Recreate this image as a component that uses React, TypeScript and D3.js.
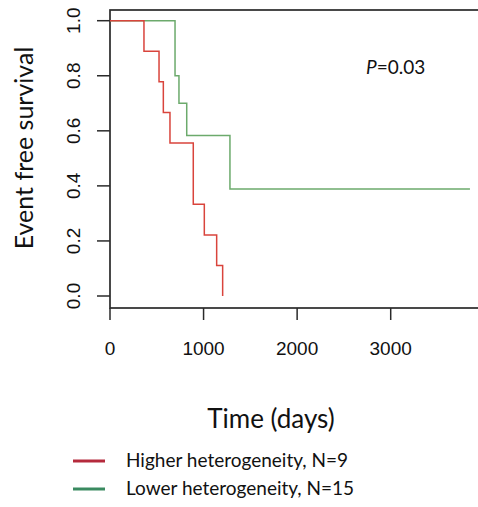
import React from "react";
import * as d3 from "d3";

const higherTimes = [0, 363, 524, 570, 641, 890, 1008, 1140, 1204];
const higherSurv = [1, 0.889, 0.778, 0.667, 0.556, 0.333, 0.222, 0.111, 0];
const lowerTimes = [0, 695, 737, 820, 1282, 3847];
const lowerSurv = [1, 0.8, 0.7, 0.583, 0.389, 0.389];
const xTicks = [0, 1000, 2000, 3000];
const yTicks = [0, 0.2, 0.4, 0.6, 0.8, 1.0];
const seriesNames = ["Higher heterogeneity, N=9", "Lower heterogeneity, N=15"];
const colors = ["#d9443c", "#6caa6c"];
const legendColors = ["#b52a3c", "#3a8a60"];

const W = 478;
const H = 507;

export default function App() {
  const x = d3.scaleLinear().domain([0, 3000]).range([110, 390.7]);
  const y = d3.scaleLinear().domain([0, 1]).range([296, 20.7]);
  const line = d3
    .line<[number, number]>()
    .x((d) => x(d[0]))
    .y((d) => y(d[1]))
    .curve(d3.curveStepAfter);

  const hi: [number, number][] = higherTimes.map((t, i) => [t, higherSurv[i]]);
  const lo: [number, number][] = lowerTimes.map((t, i) => [t, lowerSurv[i]]);
  const axisColor = "#2a2a2a";
  const numFont = "'Liberation Sans', Arial, sans-serif";
  const textFont = "Lato, 'Open Sans', sans-serif";

  return (
    <svg
      width={W}
      height={H}
      style={{ position: "absolute", left: 0, top: 0, background: "#fff" }}
    >
      {/* box */}
      <rect x={110} y={10} width={380} height={298} fill="none" stroke={axisColor} strokeWidth={1.7} />
      {/* curves */}
      <path d={line(lo) || ""} fill="none" stroke={colors[1]} strokeWidth={1.5} />
      <path d={line(hi) || ""} fill="none" stroke={colors[0]} strokeWidth={1.5} />
      {/* y axis ticks */}
      {yTicks.map((v) => (
        <g key={"y" + v}>
          <line x1={97} x2={110} y1={y(v)} y2={y(v)} stroke={axisColor} strokeWidth={1.5} />
          <text
            transform={`translate(80,${y(v)}) rotate(-90)`}
            textAnchor="middle"
            fontFamily={numFont}
            fontSize={19}
            fill="#111"
          >
            {v.toFixed(1)}
          </text>
        </g>
      ))}
      {/* x axis ticks */}
      {xTicks.map((v) => (
        <g key={"x" + v}>
          <line x1={x(v)} x2={x(v)} y1={308} y2={320} stroke={axisColor} strokeWidth={1.5} />
          <text x={x(v)} y={355} textAnchor="middle" fontFamily={numFont} fontSize={19} fill="#111">
            {v}
          </text>
        </g>
      ))}
      {/* axis titles */}
      <text
        transform="translate(33,148) rotate(-90)"
        textAnchor="middle"
        fontFamily={textFont}
        fontSize={25}
        fill="#111"
      >
        Event free survival
      </text>
      <text x={271} y={428} textAnchor="middle" fontFamily={textFont} fontSize={26} fill="#111">
        Time (days)
      </text>
      {/* p-value */}
      <text x={366} y={74} fontFamily={textFont} fontSize={19} fill="#111">
        <tspan fontStyle="italic">P</tspan>=0.03
      </text>
      {/* legend */}
      {seriesNames.map((name, i) => (
        <g key={name}>
          <line
            x1={73}
            x2={105}
            y1={461 + i * 28}
            y2={461 + i * 28}
            stroke={legendColors[i]}
            strokeWidth={3}
          />
          <text x={126} y={467 + i * 28} fontFamily={textFont} fontSize={19} fill="#111">
            {name}
          </text>
        </g>
      ))}
    </svg>
  );
}
